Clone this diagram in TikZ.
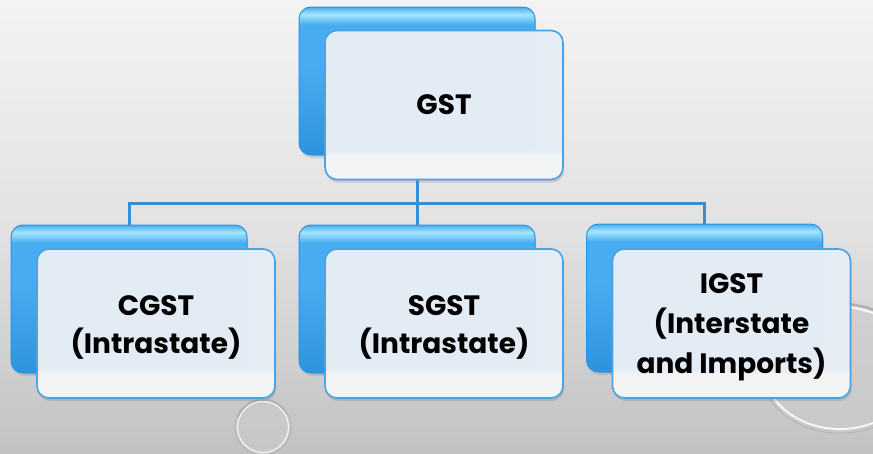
\documentclass[tikz,border=0pt]{standalone}
\usepackage{fontspec}
\setmainfont{Poppins}[BoldFont={Poppins Bold}]
\usetikzlibrary{shadows}
\definecolor{bgtop}{HTML}{F3F3F3}
\definecolor{bgmid}{HTML}{E2E2E2}
\definecolor{bgbot}{HTML}{C2C2C2}
\definecolor{backtop}{HTML}{A6E6FF}
\definecolor{backmid}{HTML}{47ACF0}
\definecolor{backbot}{HTML}{2E93DE}
\definecolor{frontedge}{HTML}{4AA3E3}
\definecolor{fronttop}{HTML}{E6EDF5}
\definecolor{frontbot}{HTML}{F4F5F6}
\definecolor{linkblue}{HTML}{3A8ED4}
% shadings span 25bp..75bp of their box
% glossy blue panel: dark body, bright rim near the top
\pgfdeclareverticalshading{backshade}{100bp}{%
  color(0bp)=(backbot); color(25bp)=(backbot); color(55bp)=(backmid);
  color(69bp)=(backmid); color(72.5bp)=(backtop); color(75bp)=(backmid);
  color(100bp)=(backmid)}
% pale panel: bluish face with a lighter band along the bottom
\pgfdeclareverticalshading{frontshade}{100bp}{%
  color(0bp)=(frontbot); color(33bp)=(frontbot); color(35bp)=(fronttop);
  color(100bp)=(fronttop)}
\tikzset{
  backbox/.style={rounded corners=12pt, minimum width=236pt, minimum height=148pt,
    draw=backbot, line width=1pt, shading=backshade,
    drop shadow={opacity=0.25, shadow xshift=1pt, shadow yshift=-3pt}},
  frontbox/.style={rounded corners=12pt, minimum width=238pt, minimum height=149pt,
    draw=frontedge, line width=1.6pt, shading=frontshade,
    fill opacity=0.985, text opacity=1,
    drop shadow={opacity=0.3, shadow xshift=1pt, shadow yshift=-3pt}},
  label/.style={font=\fontsize{28}{38}\selectfont\bfseries, align=center, text=black},
  link/.style={draw=linkblue, line width=3pt},
  disc/.style={fill=gray!40, fill opacity=0.5, draw=gray!60, line width=0.8pt}
}
\begin{document}
\begin{tikzpicture}[x=1pt,y=-1pt]
\useasboundingbox (0,0) rectangle (873,453);
% backdrop
\shade[top color=bgtop, bottom color=bgbot, middle color=bgmid] (0,0) rectangle (873,453);
% decorative glass discs
\fill[disc] (263,427) circle (28);
\draw[white, line width=1.2pt, opacity=0.8] (263,427) circle (25.5);
\draw[gray!70, line width=1.2pt, opacity=0.7] (263,427) ++(200:27) arc (200:330:27);
\fill[disc] (840,368) ellipse (80 and 65);
\draw[white, line width=2pt, opacity=0.85] (840,368) ellipse (76 and 61);
\draw[gray!75, line width=1.5pt, opacity=0.7] (840,368) ++(150:79 and 64) arc (150:300:79 and 64);
% back panels
\node[backbox] (gstb) at (417,81) {};
\node[backbox] (cgstb) at (129,299) {};
\node[backbox] (sgstb) at (417,299) {};
\node[backbox] (igstb) at (704.5,298) {};
% hierarchy links
\coordinate (bar) at (417,203);
\draw[link] (gstb.south) -- (bar);
\draw[link] (cgstb.north) |- (bar) -| (igstb.north);
\draw[link] (bar) -- (sgstb.north);
% front panels
\node[frontbox] (gst) at (444,105) {};
\node[frontbox] (cgst) at (156,323.5) {};
\node[frontbox] (sgst) at (444,323.5) {};
\node[frontbox] (igst) at (731.5,323.5) {};
% captions
\node[label] at (gst) {GST};
\node[label] at ([yshift=-4pt]cgst.center) {CGST\\(Intrastate)};
\node[label] at ([yshift=-4pt]sgst.center) {SGST\\(Intrastate)};
\node[label, font=\fontsize{28}{40}\selectfont\bfseries] at ([yshift=-4pt]igst.center) {IGST\\(Interstate\\and Imports)};
\end{tikzpicture}
\end{document}
